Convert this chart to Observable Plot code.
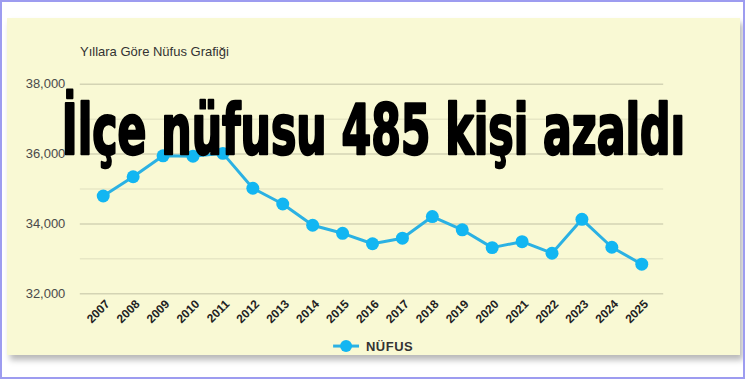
<!DOCTYPE html>
<html>
<head>
<meta charset="utf-8">
<script src="https://cdn.jsdelivr.net/npm/d3@7"></script>
<script src="https://cdn.jsdelivr.net/npm/@observablehq/plot@0.6"></script>
<style>
  html, body { margin: 0; padding: 0; background: #fff; }
  #frame { position: relative; width: 745px; height: 379px; box-sizing: border-box; border: 2px solid #9d9cf0; background: #fff; overflow: hidden; }
  #panel { position: absolute; left: 5px; top: 16px; width: 733px; height: 337px; background: #f9f9d4; box-shadow: 3px 5px 6px rgba(0,0,0,0.28); }
  #chart { position: absolute; left: -2px; top: -2px; }
  #chart svg { background: transparent; overflow: visible; }
  .ttl { position: absolute; left: 78px; top: 42px; font: 13px "Liberation Sans", Arial, sans-serif; color: #333; }
</style>
</head>
<body>
<div id="frame">
  <div id="panel"></div>
  <div id="chart"></div>
  <div class="ttl" id="ttl"></div>
</div>
<script>
const years = ["2007","2008","2009","2010","2011","2012","2013","2014","2015","2016","2017","2018","2019","2020","2021","2022","2023","2024","2025"];
const population = [34800, 35350, 35950, 35940, 36020, 35020, 34570, 33960, 33730, 33430, 33590, 34210, 33830, 33320, 33490, 33160, 34130, 33330, 32845];
const yTicksMajor = [32000, 34000, 36000, 38000];
const yTicksMinor = [33000, 35000, 37000];
const seriesName = "NÜFUS";
const headline = "İlçe nüfusu 485 kişi azaldı";
const chartTitle = "Yıllara Göre Nüfus Grafiği";

document.getElementById("ttl").textContent = chartTitle;
const data = years.map((y, i) => ({year: y, value: population[i]}));
const lineColor = "#2bb1e3";
const dotColor = "#12b6f2";

const W = 745, H = 345;
const plot = Plot.plot({
  width: W,
  height: H,
  marginLeft: 80,
  marginRight: 80,
  marginTop: 84,
  marginBottom: H - 294,
  style: {background: "transparent", fontFamily: "'Liberation Sans', Arial, sans-serif"},
  x: {type: "point", domain: years, padding: 0.5, label: null, axis: null},
  y: {domain: [32000, 38000], label: null, axis: null},
  marks: [
    Plot.ruleY(yTicksMinor, {stroke: "#000", strokeOpacity: 0.07, strokeWidth: 1.5}),
    Plot.ruleY(yTicksMajor, {stroke: "#000", strokeOpacity: 0.15, strokeWidth: 1.5}),
    Plot.text(yTicksMajor, {y: d => d, frameAnchor: "left", dx: -15, textAnchor: "end", text: d3.format(","), fontSize: 13, fill: "#4a4a4a"}),
    Plot.line(data, {x: "year", y: "value", stroke: lineColor, strokeWidth: 3}),
    Plot.dot(data, {x: "year", y: "value", r: 6.5, fill: dotColor})
  ]
});
document.getElementById("chart").appendChild(plot);

const svg = d3.select(plot);
const xs = plot.scale("x");
const yBottom = 294;
// rotated x tick labels positioned with Plot's x scale
const xl = svg.append("g").attr("font-size", 12).attr("font-weight", "bold").attr("fill", "#222").attr("text-anchor", "end");
years.forEach(y => {
  xl.append("text")
    .attr("transform", `translate(${xs.apply(y) + 5},${yBottom + 9}) rotate(-45)`)
    .attr("dy", "0.32em")
    .text(y);
});

// legend
const lg = svg.append("g");
lg.append("line").attr("x1", 334).attr("x2", 360).attr("y1", 347).attr("y2", 347).attr("stroke", lineColor).attr("stroke-width", 3);
lg.append("circle").attr("cx", 347).attr("cy", 347).attr("r", 6).attr("fill", dotColor);
lg.append("text").attr("x", 367).attr("y", 347).attr("dy", "0.35em").attr("text-anchor", "start").attr("font-size", 13).attr("font-weight", "bold").attr("fill", "#333").attr("letter-spacing", "0.5px").text(seriesName);

// headline overlay
svg.append("text")
  .attr("transform", "translate(62,154) scale(1,1.38)")
  .attr("x", 0).attr("y", 0)
  .attr("text-anchor", "start")
  .attr("textLength", 625).attr("lengthAdjust", "spacingAndGlyphs")
  .attr("font-family", "'Liberation Sans Narrow', 'DejaVu Sans Condensed', 'Liberation Sans', sans-serif")
  .attr("font-weight", "bold")
  .attr("font-size", 50)
  .attr("fill", "#000").attr("stroke", "#000").attr("stroke-width", 1.8).attr("stroke-linejoin", "round")
  .text(headline);
</script>
</body>
</html>
